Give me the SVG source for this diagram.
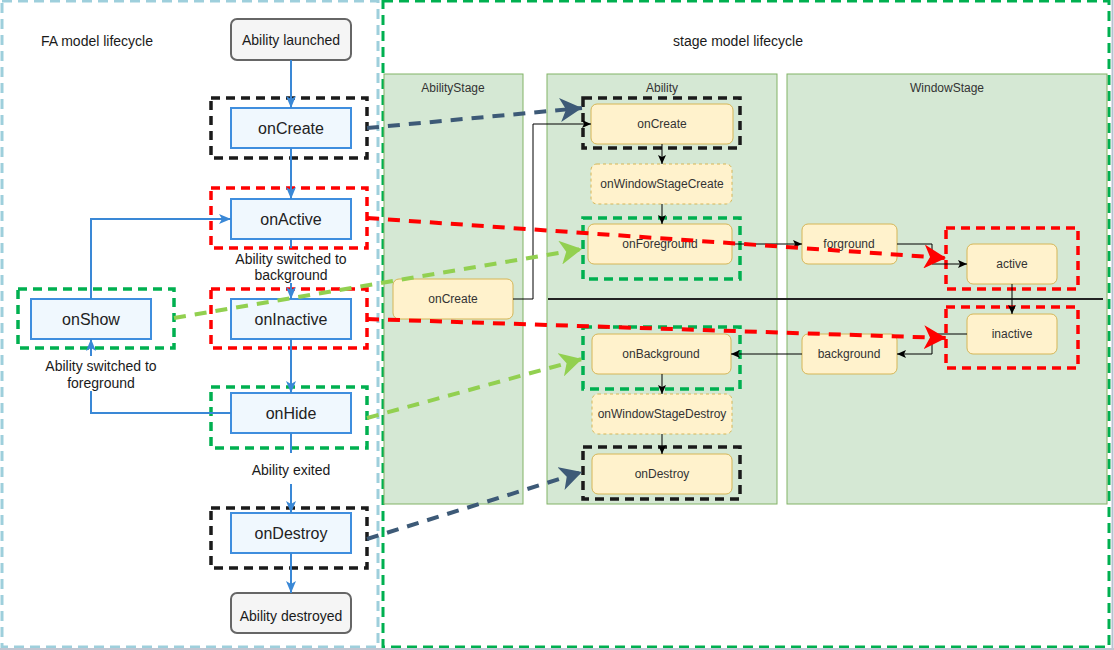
<svg xmlns="http://www.w3.org/2000/svg" width="1114" height="650" viewBox="0 0 1114 650">
<style>
.lt{font-family:"Liberation Sans",Arial,sans-serif;font-size:14px;fill:#1a1a1a;text-anchor:middle}
.ln{font-family:"Liberation Sans",Arial,sans-serif;font-size:16px;fill:#222;text-anchor:middle}
.rt{font-family:"Liberation Sans",Arial,sans-serif;font-size:12px;fill:#333;text-anchor:middle}
.fa{fill:#f0f8fe;stroke:#3f8ede;stroke-width:2}
.gr{fill:#f5f5f5;stroke:#666;stroke-width:2}
.lane{fill:#d5e8d4;stroke:#82b366;stroke-width:1}
.nd{fill:#fff2cc;stroke:#d6b656;stroke-width:1}
.ndd{fill:#fff2cc;stroke:#d6b656;stroke-width:1;stroke-dasharray:3 3}
.bx{fill:none;stroke-width:3.5;stroke-dasharray:9 6}
.bk{stroke:#1a1a1a}.rd{stroke:#ff0000}.gn{stroke:#00b050}
.bl{fill:none;stroke:#3a88d6;stroke-width:2}
.cn{fill:none;stroke:#000;stroke-width:1}
.da{fill:none;stroke-width:4;stroke-dasharray:12 9}
</style>
<defs>
<marker id="ab" markerUnits="userSpaceOnUse" viewBox="0 0 12 10" markerWidth="12" markerHeight="10" refX="12" refY="5" orient="auto"><path d="M0,0 L12,5 L0,10 L3,5 z" fill="#3a88d6"/></marker>
<marker id="ak" markerUnits="userSpaceOnUse" viewBox="0 0 9 8" markerWidth="9" markerHeight="8" refX="9" refY="4" orient="auto"><path d="M0,0 L9,4 L0,8 L2,4 z" fill="#000"/></marker>
<marker id="mSl" markerUnits="userSpaceOnUse" viewBox="0 0 22 24" markerWidth="22" markerHeight="24" refX="22" refY="12" orient="auto"><path d="M0,0 L22,12 L0,24 L6,12 z" fill="#3d5a77"/></marker>
<marker id="mRd" markerUnits="userSpaceOnUse" viewBox="0 0 22 24" markerWidth="22" markerHeight="24" refX="22" refY="12" orient="auto"><path d="M0,0 L22,12 L0,24 L6,12 z" fill="#ff0000"/></marker>
<marker id="mGn" markerUnits="userSpaceOnUse" viewBox="0 0 22 24" markerWidth="22" markerHeight="24" refX="22" refY="12" orient="auto"><path d="M0,0 L22,12 L0,24 L6,12 z" fill="#92d050"/></marker>
</defs>
<rect width="1114" height="650" fill="#fff"/>
<g id="frames">
<rect x="2" y="1" width="376" height="646" fill="none" stroke="#9ecfdc" stroke-width="3" stroke-dasharray="10 6"/>
<rect x="383" y="1" width="726" height="646" fill="none" stroke="#00b050" stroke-width="3" stroke-dasharray="10 6"/>
<line x1="1112.5" y1="0" x2="1112.5" y2="650" stroke="#b8c0d0" stroke-width="2"/>
<line x1="0" y1="649" x2="1114" y2="649" stroke="#c0c6d2" stroke-width="2"/>
</g>
<g id="titles">
<text class="lt" x="97" y="46">FA model lifecycle</text>
<text class="lt" x="738" y="46">stage model lifecycle</text>
</g>
<g id="lanes">
<rect class="lane" x="384" y="74" width="139" height="430"/>
<text class="rt" x="453" y="92">AbilityStage</text>
<rect class="lane" x="547" y="74" width="230" height="430"/>
<text class="rt" x="662" y="92">Ability</text>
<rect class="lane" x="787" y="74" width="320" height="430"/>
<text class="rt" x="947" y="92">WindowStage</text>
<line x1="548" y1="299" x2="1103" y2="299" stroke="#222" stroke-width="2"/>
</g>
<g id="fa-nodes">
<g id="fa-launched"><rect class="gr" x="231" y="19" width="120" height="41" rx="6"/><text class="lt" x="291" y="45">Ability launched</text></g>
<g id="fa-oncreate"><rect class="bx bk" x="211" y="98" width="156" height="60"/><rect class="fa" x="231" y="108" width="120" height="40"/><text class="ln" x="291" y="134">onCreate</text></g>
<g id="fa-onactive"><rect class="bx rd" x="211" y="188" width="156" height="60"/><rect class="fa" x="231" y="199" width="120" height="40"/><text class="ln" x="291" y="225">onActive</text></g>
<g id="fa-oninactive"><rect class="bx rd" x="211" y="289" width="156" height="59"/><rect class="fa" x="231" y="299" width="120" height="40"/><text class="ln" x="291" y="325">onInactive</text></g>
<g id="fa-onhide"><rect class="bx gn" x="211" y="387" width="156" height="61"/><rect class="fa" x="231" y="393" width="120" height="40"/><text class="ln" x="291" y="419">onHide</text></g>
<g id="fa-ondestroy"><rect class="bx bk" x="211" y="508" width="156" height="60"/><rect class="fa" x="231" y="513" width="120" height="40"/><text class="ln" x="291" y="539">onDestroy</text></g>
<g id="fa-destroyed"><rect class="gr" x="231" y="593" width="120" height="40" rx="6"/><text class="lt" x="291" y="621">Ability destroyed</text></g>
<g id="fa-onshow"><rect class="bx gn" x="18" y="289" width="156" height="59"/><rect class="fa" x="31" y="299" width="120" height="40"/><text class="ln" x="91" y="325">onShow</text></g>
</g>
<g id="stage-nodes">
<g id="as-oncreate"><rect class="nd" x="393" y="279" width="120" height="40" rx="6"/><text class="rt" x="453" y="303">onCreate</text></g>
<g id="ab-oncreate"><rect class="bx bk" x="583" y="98" width="157" height="50"/><rect class="nd" x="591" y="104" width="142" height="40" rx="6"/><text class="rt" x="662" y="128">onCreate</text></g>
<g id="ab-onwscreate"><rect class="ndd" x="591" y="164" width="141" height="40" rx="6"/><text class="rt" x="662" y="188">onWindowStageCreate</text></g>
<g id="ab-onforeground"><rect class="bx gn" x="583" y="218" width="157" height="61"/><rect class="nd" x="588" y="224" width="144" height="40" rx="6"/><text class="rt" x="660" y="248">onForeground</text></g>
<g id="ab-onbackground"><rect class="bx gn" x="583" y="327" width="157" height="62"/><rect class="nd" x="592" y="334" width="139" height="40" rx="6"/><text class="rt" x="661" y="358">onBackground</text></g>
<g id="ab-onwsdestroy"><rect class="ndd" x="592" y="394" width="140" height="40" rx="6"/><text class="rt" x="662" y="418">onWindowStageDestroy</text></g>
<g id="ab-ondestroy"><rect class="bx bk" x="583" y="447" width="157" height="52"/><rect class="nd" x="592" y="454" width="140" height="40" rx="6"/><text class="rt" x="662" y="478">onDestroy</text></g>
<g id="ws-forground"><rect class="nd" x="802" y="224" width="95" height="40" rx="6"/><text class="rt" x="849" y="248">forground</text></g>
<g id="ws-active"><rect class="bx rd" x="946" y="228" width="132" height="61"/><rect class="nd" x="967" y="244" width="90" height="40" rx="6"/><text class="rt" x="1012" y="268">active</text></g>
<g id="ws-inactive"><rect class="bx rd" x="946" y="307" width="132" height="61"/><rect class="nd" x="967" y="314" width="90" height="40" rx="6"/><text class="rt" x="1012" y="338">inactive</text></g>
<g id="ws-background"><rect class="nd" x="802" y="334" width="95" height="40" rx="6"/><text class="rt" x="849" y="358">background</text></g>
</g>
<g id="connectors">
<line class="bl" x1="291" y1="60" x2="291" y2="108" marker-end="url(#ab)"/>
<line class="bl" x1="291" y1="148" x2="291" y2="199" marker-end="url(#ab)"/>
<line class="bl" x1="291" y1="239" x2="291" y2="248"/>
<line class="bl" x1="291" y1="283" x2="291" y2="299" marker-end="url(#ab)"/>
<line class="bl" x1="291" y1="339" x2="291" y2="393" marker-end="url(#ab)"/>
<line class="bl" x1="291" y1="433" x2="291" y2="453"/>
<line class="bl" x1="291" y1="484" x2="291" y2="513" marker-end="url(#ab)"/>
<line class="bl" x1="291" y1="553" x2="291" y2="593" marker-end="url(#ab)"/>
<polyline class="bl" points="91,299 91,219 231,219" marker-end="url(#ab)"/>
<polyline class="bl" points="231,413 91,413 91,391"/>
<line class="bl" x1="91" y1="356" x2="91" y2="339" marker-end="url(#ab)"/>
<text class="lt" x="291" y="264">Ability switched to</text>
<text class="lt" x="291" y="280">background</text>
<text class="lt" x="101" y="371">Ability switched to</text>
<text class="lt" x="101" y="388">foreground</text>
<text class="lt" x="291" y="475">Ability exited</text>
<polyline class="cn" points="513,299 533,299 533,124 591,124" marker-end="url(#ak)"/>
<line class="cn" x1="662" y1="144" x2="662" y2="164" marker-end="url(#ak)"/>
<line class="cn" x1="662" y1="204" x2="662" y2="224" marker-end="url(#ak)"/>
<line class="cn" x1="732" y1="244" x2="802" y2="244" marker-end="url(#ak)"/>
<polyline class="cn" points="897,244 932,244 932,264 967,264" marker-end="url(#ak)"/>
<line class="cn" x1="1012" y1="284" x2="1012" y2="314" marker-end="url(#ak)"/>
<polyline class="cn" points="967,334 932,334 932,354 897,354" marker-end="url(#ak)"/>
<line class="cn" x1="802" y1="354" x2="731" y2="354" marker-end="url(#ak)"/>
<line class="cn" x1="662" y1="374" x2="662" y2="394" marker-end="url(#ak)"/>
<line class="cn" x1="662" y1="434" x2="662" y2="454" marker-end="url(#ak)"/>
<line class="da" stroke="#3d5a77" x1="367" y1="128" x2="582" y2="108" marker-end="url(#mSl)"/>
<line class="da" stroke="#3d5a77" x1="367" y1="539" x2="582" y2="472" marker-end="url(#mSl)"/>
<line class="da" stroke="#ff0000" x1="367" y1="218" x2="946" y2="258" marker-end="url(#mRd)"/>
<line class="da" stroke="#ff0000" x1="367" y1="319" x2="946" y2="338" marker-end="url(#mRd)"/>
<line class="da" stroke="#92d050" x1="174" y1="318" x2="582" y2="249" marker-end="url(#mGn)"/>
<line class="da" stroke="#92d050" x1="367" y1="418" x2="582" y2="359" marker-end="url(#mGn)"/>
</g>
</svg>
